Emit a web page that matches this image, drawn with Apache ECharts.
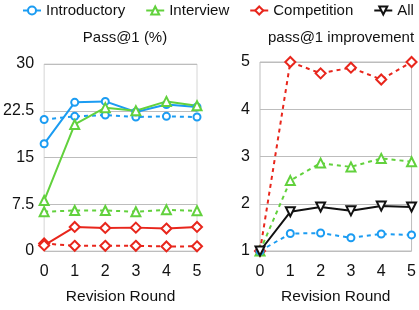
<!DOCTYPE html>
<html><head><meta charset="utf-8">
<script src="https://cdn.jsdelivr.net/npm/echarts@6/dist/echarts.min.js"></script>
<style>html,body{margin:0;padding:0;background:#fff}#c{width:419px;height:310px}</style>
</head><body><div id="c"></div>
<script>
const rounds = ['0','1','2','3','4','5'];
const yTicksLeft = [0, 7.5, 15, 22.5, 30];
const yTicksRight = [1, 2, 3, 4, 5];
// Pass@1 (%)
const introPass = [17.2, 23.85, 24.0, 22.3, 23.5, 23.1];
const introPassBase = [21.1, 21.6, 21.8, 21.5, 21.6, 21.5];
const interviewPass = [8.1, 20.3, 23.0, 22.5, 24.0, 23.3];
const interviewPassBase = [6.3, 6.5, 6.5, 6.3, 6.6, 6.45];
const compPass = [0.9, 3.86, 3.7, 3.75, 3.6, 3.86];
const compPassBase = [1.2, 0.83, 0.83, 0.83, 0.73, 0.75];
// pass@1 improvement
const compImp = [1, 5.0, 4.76, 4.88, 4.63, 5.0];
const interviewImp = [1, 2.49, 2.86, 2.78, 2.96, 2.89];
const allImp = [1, 1.83, 1.93, 1.85, 1.95, 1.93];
const introImp = [1, 1.37, 1.38, 1.28, 1.36, 1.34];

const BLUE = '#1b9cf2', GREEN = '#62d13d', RED = '#e8261c', BLACK = '#111';
const FONT = 'Liberation Sans';
const downTri = 'path://M0,0 L10,0 L5,9 Z';

function mk(name, data, color, symbol, dashed, xi, yi, size) {
  return {
    name, type: 'line', data, xAxisIndex: xi, yAxisIndex: yi,
    symbol, symbolSize: size, clip: false,
    lineStyle: { color, width: 2, type: dashed ? [4, 4] : 'solid' },
    itemStyle: { color: '#fff', borderColor: color, borderWidth: 2 },
    emphasis: { disabled: true }, z: dashed ? 3 : 4
  };
}

const axisLabel = { color: '#111', fontFamily: FONT, fontSize: 16 };
const split = { show: true, lineStyle: { color: '#bdbdbd', width: 1 } };

const option = {
  animation: false,
  textStyle: { fontFamily: FONT },
  legend: {
    data: ['Introductory', 'Interview', 'Competition', 'All'],
    top: 3, left: 22, padding: 0, itemWidth: 18, itemHeight: 10, itemGap: 20,
    textStyle: { fontFamily: FONT, fontSize: 15, color: '#111' }
  },
  title: [
    { text: 'Pass@1 (%)', left: 120, top: 25, textAlign: 'center',
      textStyle: { fontFamily: FONT, fontSize: 15, fontWeight: 'normal', color: '#111' } },
    { text: 'pass@1 improvement', left: 336, top: 25, textAlign: 'center',
      textStyle: { fontFamily: FONT, fontSize: 15, fontWeight: 'normal', color: '#111' } }
  ],
  grid: [
    { left: 42, right: 222, top: 64, bottom: 54, show: true, borderColor: '#d6d6d6', borderWidth: 1 },
    { left: 260, right: 6, top: 62, bottom: 52, show: true, borderColor: '#bdbdbd', borderWidth: 1 }
  ],
  xAxis: [0, 1].map(i => ({
    type: 'category', data: rounds, gridIndex: i, boundaryGap: false,
    axisLine: { show: false }, axisTick: { show: false },
    axisLabel: Object.assign({ margin: 13 }, axisLabel),
    splitLine: { show: false },
    name: 'Revision Round', nameLocation: 'middle', nameGap: 38,
    nameTextStyle: { fontFamily: FONT, fontSize: 15.5, color: '#111' }
  })),
  yAxis: [
    { type: 'value', gridIndex: 0, min: yTicksLeft[0], max: yTicksLeft[yTicksLeft.length - 1], interval: 7.5,
      axisLine: { show: false }, axisTick: { show: false },
      axisLabel: Object.assign({ margin: 10 }, axisLabel), splitLine: split },
    { type: 'value', gridIndex: 1, min: yTicksRight[0], max: yTicksRight[yTicksRight.length - 1], interval: 1,
      axisLine: { show: false }, axisTick: { show: false },
      axisLabel: Object.assign({ margin: 10 }, axisLabel), splitLine: split }
  ],
  series: [
    mk('Introductory', introPass, BLUE, 'circle', false, 0, 0, 7),
    mk('Introductory baseline', introPassBase, BLUE, 'circle', true, 0, 0, 7),
    mk('Interview', interviewPass, GREEN, 'triangle', false, 0, 0, 9),
    mk('Interview baseline', interviewPassBase, GREEN, 'triangle', true, 0, 0, 9),
    mk('Competition', compPass, RED, 'diamond', false, 0, 0, 10),
    mk('Competition baseline', compPassBase, RED, 'diamond', true, 0, 0, 10),
    mk('Competition improvement', compImp, RED, 'diamond', true, 1, 1, 10),
    mk('Interview improvement', interviewImp, GREEN, 'triangle', true, 1, 1, 9),
    mk('All', allImp, BLACK, downTri, false, 1, 1, 9),
    mk('Introductory improvement', introImp, BLUE, 'circle', true, 1, 1, 7)
  ]
};
echarts.init(document.getElementById('c'), null, { renderer: 'canvas' }).setOption(option);
</script></body></html>
